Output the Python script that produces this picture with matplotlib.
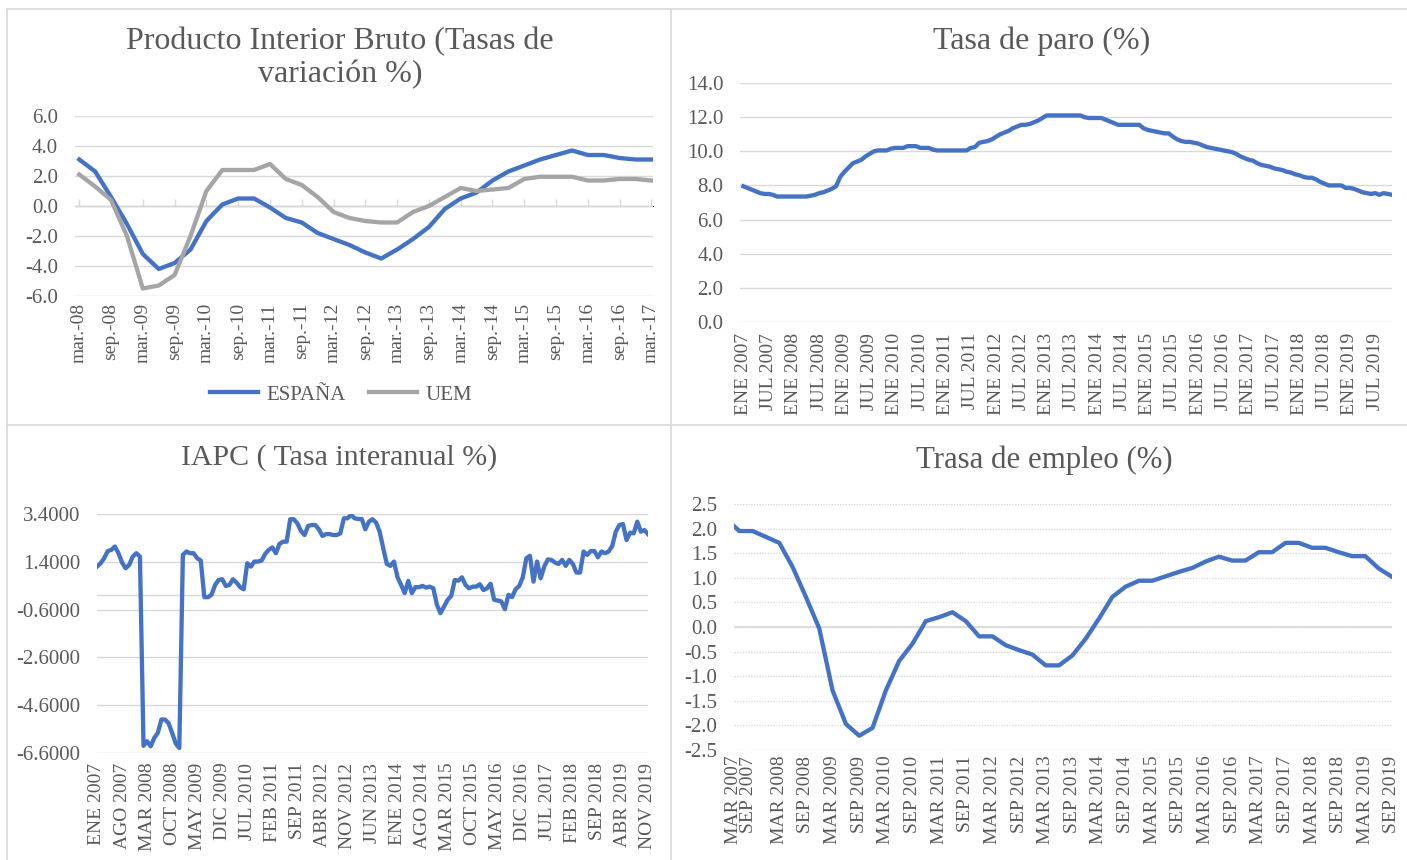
import numpy as np
import matplotlib
matplotlib.use("Agg")
import matplotlib.pyplot as plt
from matplotlib.lines import Line2D

plt.rcParams['font.family'] = ['Liberation Serif', 'DejaVu Serif']

# ---- data ----
# PIB, quarterly mar-08 .. mar-17
pib_espana = [3.1, 2.3, 0.6, -1.2, -3.2, -4.2, -3.8, -2.9, -1.0, 0.1, 0.5, 0.5,
              -0.1, -0.8, -1.1, -1.8, -2.2, -2.6, -3.1, -3.5, -2.9, -2.2, -1.4, -0.2,
              0.5, 0.9, 1.7, 2.3, 2.7, 3.1, 3.4, 3.7, 3.4, 3.4, 3.2, 3.1, 3.1]
pib_uem = [2.1, 1.3, 0.4, -2.0, -5.5, -5.3, -4.6, -2.0, 1.0, 2.4, 2.4, 2.4,
           2.8, 1.8, 1.4, 0.6, -0.4, -0.8, -1.0, -1.1, -1.1, -0.4, 0.0, 0.6,
           1.2, 1.0, 1.1, 1.2, 1.8, 1.95, 1.95, 1.95, 1.7, 1.7, 1.8, 1.8, 1.7]
pib_labels = ['mar.-08', 'sep.-08', 'mar.-09', 'sep.-09', 'mar.-10', 'sep.-10',
              'mar.-11', 'sep.-11', 'mar.-12', 'sep.-12', 'mar.-13', 'sep.-13',
              'mar.-14', 'sep.-14', 'mar.-15', 'sep.-15', 'mar.-16', 'sep.-16', 'mar.-17']

# Tasa de paro, monthly ENE 2007 .. NOV 2019
paro = [7.95, 7.85, 7.75, 7.65, 7.55, 7.5, 7.5, 7.45, 7.35, 7.35, 7.35, 7.35,
        7.35, 7.35, 7.35, 7.35, 7.4, 7.45, 7.55, 7.6, 7.7, 7.8, 7.95, 8.5,
        8.8, 9.05, 9.3, 9.4, 9.5, 9.7, 9.85, 10.0, 10.05, 10.05, 10.05, 10.15,
        10.2, 10.2, 10.2, 10.3, 10.3, 10.3, 10.2, 10.2, 10.2, 10.1, 10.05, 10.05,
        10.05, 10.05, 10.05, 10.05, 10.05, 10.05, 10.2, 10.25, 10.5, 10.55, 10.6, 10.7,
        10.85, 11.0, 11.1, 11.2, 11.35, 11.45, 11.55, 11.55, 11.6, 11.7, 11.8, 11.95,
        12.1, 12.1, 12.1, 12.1, 12.1, 12.1, 12.1, 12.1, 12.1, 12.0, 11.95, 11.95,
        11.95, 11.95, 11.85, 11.75, 11.65, 11.55, 11.55, 11.55, 11.55, 11.55, 11.55, 11.35,
        11.25, 11.2, 11.15, 11.1, 11.05, 11.05, 10.85, 10.7, 10.6, 10.55, 10.55, 10.5,
        10.45, 10.35, 10.25, 10.2, 10.15, 10.1, 10.05, 10.0, 9.95, 9.85, 9.7, 9.6,
        9.5, 9.45, 9.3, 9.2, 9.15, 9.1, 9.0, 8.95, 8.9, 8.8, 8.75, 8.65,
        8.6, 8.5, 8.45, 8.45, 8.35, 8.2, 8.1, 8.0, 8.0, 8.0, 8.0, 7.85,
        7.85, 7.8, 7.7, 7.6, 7.55, 7.5, 7.55, 7.45, 7.55, 7.5, 7.45]
paro_labels = ['ENE 2007', 'JUL 2007', 'ENE 2008', 'JUL 2008', 'ENE 2009', 'JUL 2009',
               'ENE 2010', 'JUL 2010', 'ENE 2011', 'JUL 2011', 'ENE 2012', 'JUL 2012',
               'ENE 2013', 'JUL 2013', 'ENE 2014', 'JUL 2014', 'ENE 2015', 'JUL 2015',
               'ENE 2016', 'JUL 2016', 'ENE 2017', 'JUL 2017', 'ENE 2018', 'JUL 2018',
               'ENE 2019', 'JUL 2019']

# IAPC, monthly ENE 2007 .. NOV 2019
iapc = [1.2, 1.34, 1.55, 1.85, 1.9, 2.04, 1.76, 1.37, 1.13, 1.27, 1.62, 1.76,
        1.62, -6.3, -6.11, -6.32, -5.97, -5.76, -5.2, -5.2, -5.35, -5.76, -6.2, -6.39,
        1.69, 1.83, 1.76, 1.76, 1.55, 1.45, -0.08, -0.08, 0.02, 0.43, 0.64, 0.67,
        0.39, 0.43, 0.67, 0.53, 0.34, 0.25, 1.34, 1.2, 1.41, 1.41, 1.45, 1.73,
        1.9, 2.0, 1.76, 2.15, 2.24, 2.24, 3.18, 3.18, 3.01, 2.69, 2.52, 2.9,
        2.94, 2.94, 2.76, 2.48, 2.56, 2.56, 2.52, 2.52, 2.59, 3.22, 3.22, 3.36,
        3.22, 3.19, 3.19, 2.76, 3.08, 3.18, 3.04, 2.66, 1.97, 1.31, 1.23, 1.41,
        0.75, 0.43, 0.09, 0.6, 0.09, 0.34, 0.34, 0.39, 0.32, 0.36, 0.29, -0.4,
        -0.75, -0.47, -0.19, -0.03, 0.64, 0.61, 0.75, 0.43, 0.29, 0.36, 0.36, 0.46,
        0.22, 0.29, 0.48, -0.19, -0.22, -0.26, -0.58, 0.02, -0.08, 0.25, 0.39, 0.75,
        1.55, 1.65, 0.57, 1.41, 0.71, 1.2, 1.5, 1.48, 1.37, 1.31, 1.48, 1.23,
        1.48, 1.31, 0.95, 0.95, 1.83, 1.69, 1.85, 1.85, 1.59, 1.83, 1.76, 1.83,
        2.06, 2.66, 2.94, 2.98, 2.31, 2.62, 2.59, 3.08, 2.66, 2.73, 2.56]
iapc_labels = ['ENE 2007', 'AGO 2007', 'MAR 2008', 'OCT 2008', 'MAY 2009', 'DIC 2009',
               'JUL 2010', 'FEB 2011', 'SEP 2011', 'ABR 2012', 'NOV 2012', 'JUN 2013',
               'ENE 2014', 'AGO 2014', 'MAR 2015', 'OCT 2015', 'MAY 2016', 'DIC 2016',
               'JUL 2017', 'FEB 2018', 'SEP 2018', 'ABR 2019', 'NOV 2019']

# Tasa de empleo, quarterly MAR 2007 .. SEP 2019
empleo = [2.2, 1.95, 1.95, 1.83, 1.71, 1.22, 0.61, -0.03, -1.29, -1.97, -2.21, -2.05,
          -1.29, -0.69, -0.34, 0.12, 0.2, 0.3, 0.12, -0.19, -0.19, -0.37, -0.47, -0.56,
          -0.78, -0.78, -0.58, -0.24, 0.17, 0.61, 0.82, 0.94, 0.94, 1.03, 1.12, 1.2,
          1.33, 1.43, 1.35, 1.35, 1.52, 1.52, 1.71, 1.71, 1.61, 1.61, 1.52, 1.44,
          1.44, 1.19, 1.02]
empleo_labels = ['MAR 2007', 'SEP 2007', 'MAR 2008', 'SEP 2008', 'MAR 2009', 'SEP 2009',
                 'MAR 2010', 'SEP 2010', 'MAR 2011', 'SEP 2011', 'MAR 2012', 'SEP 2012',
                 'MAR 2013', 'SEP 2013', 'MAR 2014', 'SEP 2014', 'MAR 2015', 'SEP 2015',
                 'MAR 2016', 'SEP 2016', 'MAR 2017', 'SEP 2017', 'MAR 2018', 'SEP 2018',
                 'MAR 2019', 'SEP 2019']

BLUE = '#4472C4'
GREY = '#A5A5A5'
TXT = '#595959'
GRID = '#D9D9D9'
W, H = 1407, 860
LW = 3.1

fig = plt.figure(figsize=(W / 100, H / 100), dpi=100)


def box(x0, y0, x1, y1):
    # pixel box (top-left origin) -> figure axes
    return fig.add_axes([x0 / W, 1 - y1 / H, (x1 - x0) / W, (y1 - y0) / H])


def style(ax, ylim, yticks, fmt, grid_ls='-'):
    ax.set_ylim(*ylim)
    ax.set_yticks(yticks)
    ax.set_yticklabels([fmt % v for v in yticks])
    for s in ax.spines.values():
        s.set_visible(False)
    ax.grid(axis='y', color=GRID, lw=1.0, ls=grid_ls)
    ax.set_axisbelow(True)
    ax.tick_params(axis='y', length=0, pad=12, labelsize=15, labelcolor=TXT)
    ax.tick_params(axis='x', length=0, pad=5, labelsize=14, labelcolor=TXT,
                   labelrotation=90)


# panel frames
for seg in [((7, 9), (1407, 9)), ((7, 9), (7, 860)), ((671, 9), (671, 860)),
            ((7, 425), (1407, 425))]:
    (xa, ya), (xb, yb) = seg
    fig.add_artist(Line2D([xa / W, xb / W], [1 - ya / H, 1 - yb / H],
                          color=GRID, lw=1.2, transform=fig.transFigure))

# ---- PIB ----
ax1 = box(74.5, 116, 653, 296)
q = np.arange(len(pib_espana))
ax1.plot(q, pib_espana, color=BLUE, lw=LW, label='ESPAÑA')
ax1.plot(q, pib_uem, color=GREY, lw=LW, label='UEM')
style(ax1, (-6, 6), [-6, -4, -2, 0, 2, 4, 6], '%.1f')
ax1.set_xlim(-0.3, 36.1)
ax1.set_xticks(np.arange(0, 37, 2))
ax1.set_xticklabels(pib_labels, va='top')
sec = ax1.secondary_xaxis(0.5)
sec.set_xticks(np.arange(0, 37, 2))
sec.set_xticklabels([])
sec.tick_params(length=5, color=GRID, width=1)
sec.spines['bottom'].set_color(GRID)
ax1.legend(loc='center', bbox_to_anchor=(341 / W, 1 - 395 / H),
           bbox_transform=fig.transFigure, ncol=2, frameon=False,
           fontsize=15, labelcolor=TXT, handlelength=2.3, handletextpad=0.4,
           columnspacing=1.1)
fig.text(340 / W, 1 - 58 / H, 'Producto Interior Bruto (Tasas de\nvariación %)',
         ha='center', va='center', fontsize=23, color=TXT, linespacing=1.2)

# ---- Tasa de paro ----
ax2 = box(740, 83, 1392, 322)
m = np.arange(len(paro))
ax2.plot(m, paro, color=BLUE, lw=LW)
style(ax2, (0, 14), [0, 2, 4, 6, 8, 10, 12, 14], '%.1f')
ax2.set_xlim(-0.8, 154)
ax2.set_xticks(np.arange(0, 151, 6))
ax2.set_xticklabels(paro_labels, va='top')
ax2.tick_params(axis='x', pad=8)
fig.text(1042 / W, 1 - 41 / H, 'Tasa de paro (%)', ha='center', va='center',
         fontsize=23, color=TXT)

# ---- IAPC ----
ax3 = box(97, 514, 648, 753)
m3 = np.arange(len(iapc))
ax3.plot(m3, iapc, color=BLUE, lw=LW)
yt3 = [-6.6, -4.6, -2.6, -0.6, 1.4, 3.4]
style(ax3, (-6.6, 3.4), yt3, '%.4f')
ax3.axhline(0, color=GRID, lw=1.0, zorder=0)
ax3.set_xlim(0, 154)
ax3.set_xticks(np.arange(0, 155, 7))
ax3.set_xticklabels(iapc_labels, va='top')
ax3.tick_params(axis='x', pad=7)
fig.text(339 / W, 1 - 458 / H, 'IAPC ( Tasa interanual %)', ha='center', va='center',
         fontsize=21.5, color=TXT)

# ---- Tasa de empleo ----
ax4 = box(734, 504, 1392, 750)
q4 = np.arange(len(empleo))
ax4.plot(q4, empleo, color=BLUE, lw=LW)
yt4 = [-2.5, -2.0, -1.5, -1.0, -0.5, 0.0, 0.5, 1.0, 1.5, 2.0, 2.5]
style(ax4, (-2.5, 2.5), yt4, '%.1f', grid_ls=(0, (1, 1)))
ax4.axhline(0, color=GRID, lw=1.2, zorder=0)
ax4.set_xlim(0.6, 50)
ax4.set_xticks([0.6, 1.7] + list(range(4, 51, 2)))
ax4.set_xticklabels(empleo_labels, va='top')
ax4.tick_params(axis='x', pad=4)
fig.text(1044 / W, 1 - 460 / H, 'Trasa de empleo (%)', ha='center', va='center',
         fontsize=22.2, color=TXT)

fig.savefig('out.png', dpi=100)
